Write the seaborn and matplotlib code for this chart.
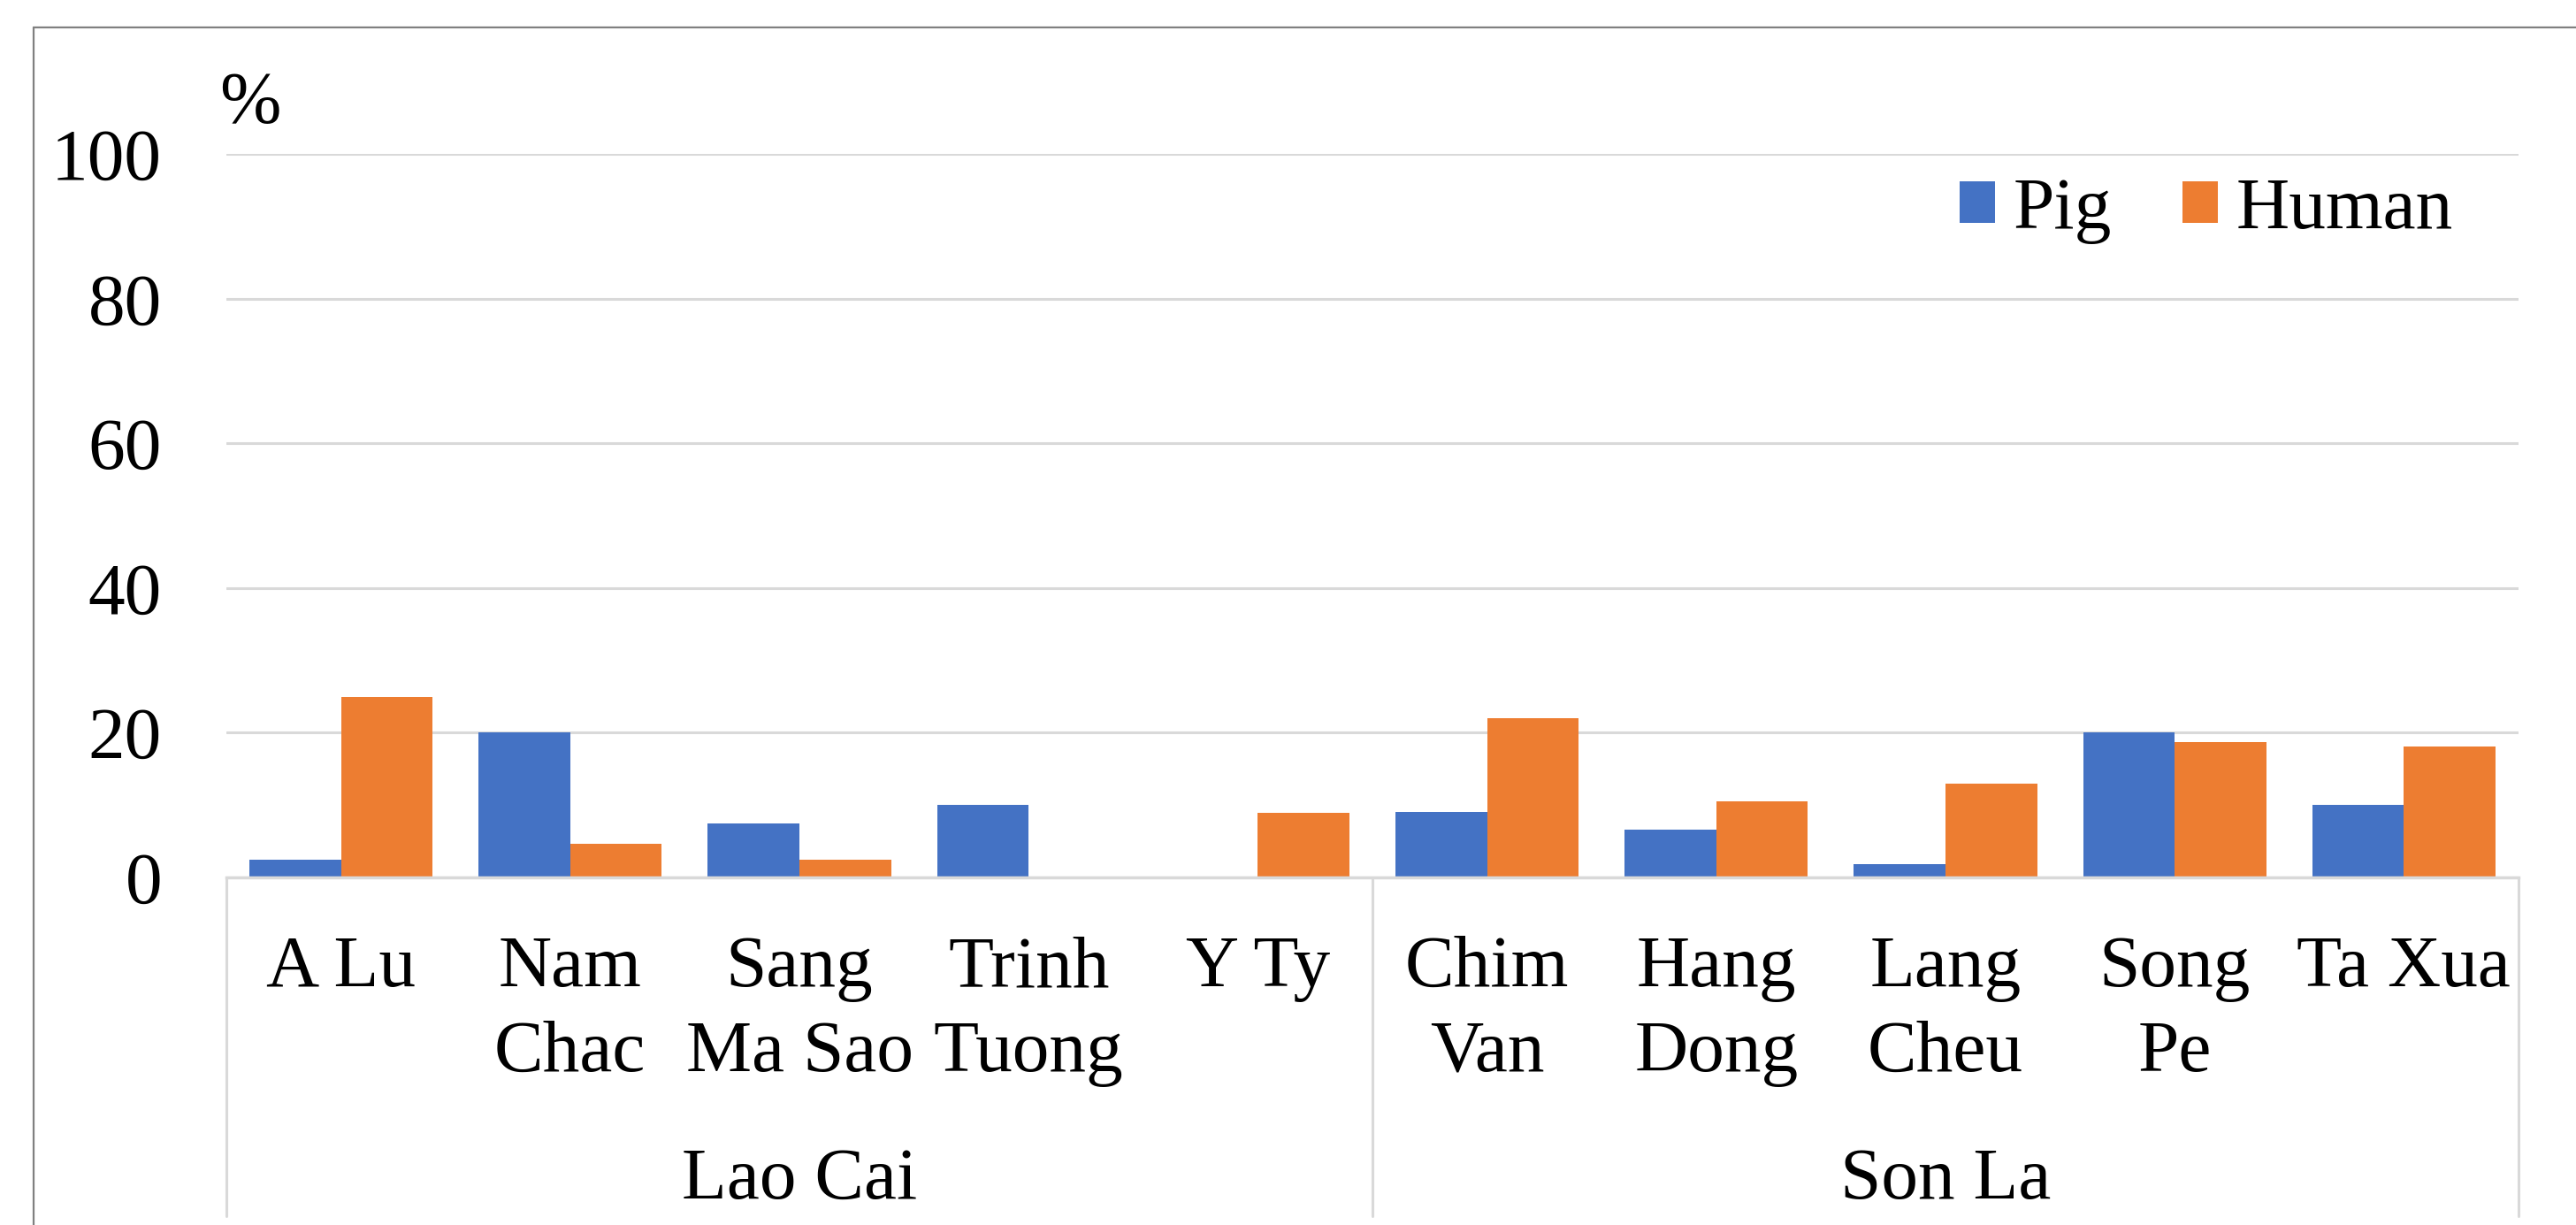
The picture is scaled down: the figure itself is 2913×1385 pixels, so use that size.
import matplotlib
matplotlib.use("Agg")
import matplotlib.pyplot as plt
import matplotlib.transforms as mtransforms
from matplotlib.lines import Line2D
from matplotlib.patches import Patch
import seaborn as sns
import pandas as pd

# ---- data ----
communes = ["A Lu", "Nam\nChac", "Sang\nMa Sao", "Trinh\nTuong", "Y Ty",
            "Chim\nVan", "Hang\nDong", "Lang\nCheu", "Song\nPe", "Ta Xua"]
provinces = ["Lao Cai", "Son La"]
province_sizes = [5, 5]
pig = [2.4, 20, 7.5, 10, 0, 9, 6.6, 1.8, 20, 10]
human = [25, 4.7, 2.4, 0, 8.9, 22, 10.5, 12.9, 18.7, 18.1]
series = ["Pig", "Human"]
yticks = [0, 20, 40, 60, 80, 100]
colors = ["#4472C4", "#ED7D31"]

df = pd.DataFrame({
    "commune": communes * 2,
    "value": pig + human,
    "series": [series[0]] * len(communes) + [series[1]] * len(communes),
})

sns.set_theme(style="white")
plt.rcParams["font.family"] = ["Liberation Serif", "DejaVu Serif"]
plt.rcParams["text.color"] = "black"

W, H = 2913, 1385
DPI = 100
fig = plt.figure(figsize=(W / DPI, H / DPI), dpi=DPI)
fig.patch.set_facecolor("white")

def fx(px):
    return px / W

def fy(py):
    return 1 - py / H

ax_left, ax_right, ax_top, ax_bottom = 256, 2848, 174, 992
ax = fig.add_axes([fx(ax_left), fy(ax_bottom), fx(ax_right - ax_left), (ax_bottom - ax_top) / H])

sns.barplot(data=df, x="commune", y="value", hue="series", order=communes,
            hue_order=series, palette=colors, width=0.8, saturation=1,
            linewidth=0, edgecolor="none", ax=ax, legend=False)

FS = 60
ax.set_ylim(0, 100)
ax.set_xlim(-0.5, len(communes) - 0.5)
ax.set_yticks(yticks)
ax.set_yticklabels([str(t) for t in yticks], fontsize=FS, color="black")
ax.tick_params(axis="y", length=0, pad=52.5, labelcolor="black")
ax.set_xticks([])
ax.set_xlabel("")
ax.set_ylabel("")
ax.grid(axis="y", color="#D9D9D9", linewidth=2.2)
ax.set_axisbelow(True)
for s in ["top", "right", "left"]:
    ax.spines[s].set_visible(False)
ax.spines["bottom"].set_color("#D9D9D9")
ax.spines["bottom"].set_linewidth(2.5)

# category labels (two rows)
trans = mtransforms.blended_transform_factory(ax.transData, fig.transFigure)
row_base = [1115, 1211]
for i, lab in enumerate(communes):
    for j, line in enumerate(lab.split("\n")):
        ax.text(i, fy(row_base[j]), line, transform=trans, ha="center",
                va="baseline", fontsize=FS, color="black", clip_on=False)

# province labels and separators
start = 0
bounds = [-0.5]
for name, n in zip(provinces, province_sizes):
    center = start + (n - 1) / 2
    ax.text(center, fy(1355), name, transform=trans, ha="center",
            va="baseline", fontsize=FS, color="black", clip_on=False)
    start += n
    bounds.append(start - 0.5)
for b in bounds:
    ax.add_line(Line2D([b, b], [fy(ax_bottom), fy(1375)], transform=trans,
                       color="#D9D9D9", linewidth=2.2, clip_on=False))

# percent unit
fig.text(fx(248), fy(138), "%", ha="left", va="baseline", fontsize=FS, color="black")

# legend
handles = [Patch(facecolor=c, edgecolor="none", label=s) for c, s in zip(colors, series)]
leg = fig.legend(handles=handles, loc="center left", bbox_to_anchor=(fx(2216), fy(238)),
                 ncol=2, frameon=False, fontsize=FS, handlelength=0.48, handleheight=0.49,
                 handletextpad=0.25, columnspacing=0.96, borderpad=0, borderaxespad=0)
for t in leg.get_texts():
    t.set_color("black")

# outer frame (top and left)
fig.add_artist(Line2D([fx(38), 1], [fy(31), fy(31)], transform=fig.transFigure,
                      color="#808080", linewidth=1.6))
fig.add_artist(Line2D([fx(38), fx(38)], [fy(31), 0], transform=fig.transFigure,
                      color="#808080", linewidth=1.6))

fig.savefig("out.png", dpi=DPI, facecolor="white")
